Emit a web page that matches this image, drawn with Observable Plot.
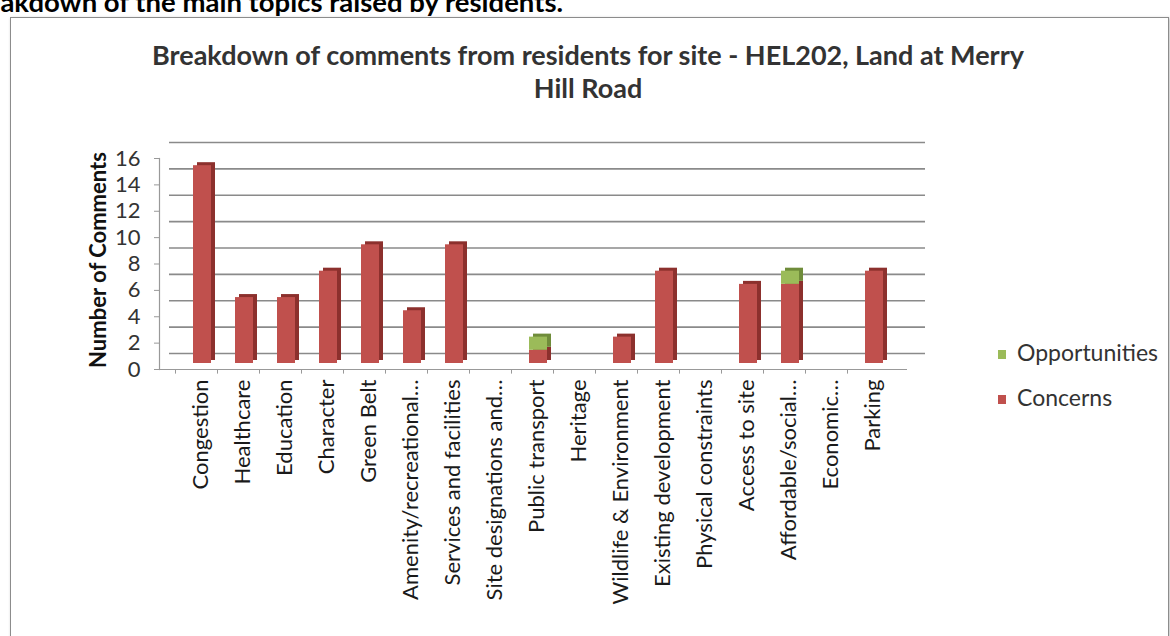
<!DOCTYPE html>
<html><head><meta charset="utf-8">
<script src="https://cdn.jsdelivr.net/npm/d3@7"></script>
<script src="https://cdn.jsdelivr.net/npm/@observablehq/plot@0.6"></script>
<style>
body{margin:0;width:1170px;height:636px;overflow:hidden;background:#fff;position:relative;font-family:Lato,"Open Sans",sans-serif;}
#top{position:absolute;left:-42px;top:-15px;font-weight:bold;font-size:27.5px;white-space:nowrap;color:#000}
#frame{position:absolute;left:10px;top:17px;width:1157px;height:640px;border:1px solid #8c8c8c;box-shadow:1px 1px 3px #bbb;background:#fff}
#title{position:absolute;left:0;width:1176px;top:38px;text-align:center;font-weight:bold;font-size:27px;line-height:33px;color:#333}
#chart{position:absolute;left:0;top:120px}
#ylab{position:absolute;left:97px;top:260px;transform:translate(-50%,-50%) rotate(-90deg);font-weight:bold;font-size:22px;white-space:nowrap;color:#111}
.leg{position:absolute;left:998px;font-size:23px;line-height:26px;color:#333;white-space:nowrap}
.leg span{display:inline-block;width:8px;height:9px;margin-right:11px;vertical-align:2px}
</style></head>
<body>
<div id="frame"></div>
<div id="top">Breakdown of the main topics raised by residents.</div>
<div id="title">Breakdown of comments from residents for site - HEL202, Land at Merry<br>Hill Road</div>
<div id="ylab">Number of Comments</div>
<div id="chart"></div>
<div class="leg" style="top:339px"><span style="background:#9BBB59"></span>Opportunities</div>
<div class="leg" style="top:384px"><span style="background:#C0504D"></span>Concerns</div>
<script>
const categories = ["Congestion","Healthcare","Education","Character","Green Belt","Amenity/recreational…","Services and facilities","Site designations and…","Public transport","Heritage","Wildlife & Environment","Existing development","Physical constraints","Access to site","Affordable/social…","Economic…","Parking"];
const concerns =      [15,5,5,7,9,4,9,0,1,0,2,7,0,6,6,0,7];
const opportunities = [0,0,0,0,0,0,0,0,1,0,0,0,0,0,1,0,0];
const series = ["Concerns","Opportunities"];
const colors = ["#C0504D","#9BBB59"];
const sideColors = ["#8C302D","#6F8C3A"];
const yTicks = [0,2,4,6,8,10,12,14,16];

const data = categories.flatMap((c,i)=>[
  {category:c, series:"Concerns", value:concerns[i]},
  {category:c, series:"Opportunities", value:opportunities[i]}
]);
const front = d => colors[series.indexOf(d.series)];
const side = d => sideColors[series.indexOf(d.series)];

const chart = Plot.plot({
  width:1170, height:516,
  marginLeft:159, marginRight:263, marginTop:32, marginBottom:273,
  style:{fontFamily:"Lato, 'Open Sans', sans-serif", color:"#333", background:"transparent"},
  x:{domain:categories, padding:0.58, label:null},
  y:{domain:[0,16], label:null},
  color:{type:"identity"},
  marks:[
    Plot.ruleY(yTicks,{y:d=>d, dy:-10, insetLeft:10, insetRight:-18, stroke:"#8a8a8a", strokeWidth:1.6}),
    Plot.ruleY([0],{dy:6, stroke:"#999", strokeWidth:1.2}),
    Plot.frame({anchor:"left", dy:6, stroke:"#999", strokeWidth:1.2}),
    Plot.ruleX(categories,{x:d=>d, dx:-22, y1:0, y2:-0.35, dy:6, stroke:"#999"}),
    Plot.axisY({ticks:yTicks, tickSize:5, dy:6, fontSize:22, tickPadding:14, stroke:"#999", fill:"#333"}),
    Plot.axisX({tickSize:0, tickRotate:-90, fontSize:22, dy:7, dx:3, fill:"#1a1a1a"}),
    Plot.barY(data,{x:"category", y:"value", fill:side, dx:9, dy:-3}),
    Plot.barY(data,{x:"category", y:"value", fill:front, dx:5})
  ]
});
document.getElementById("chart").appendChild(chart);
</script>
</body></html>
